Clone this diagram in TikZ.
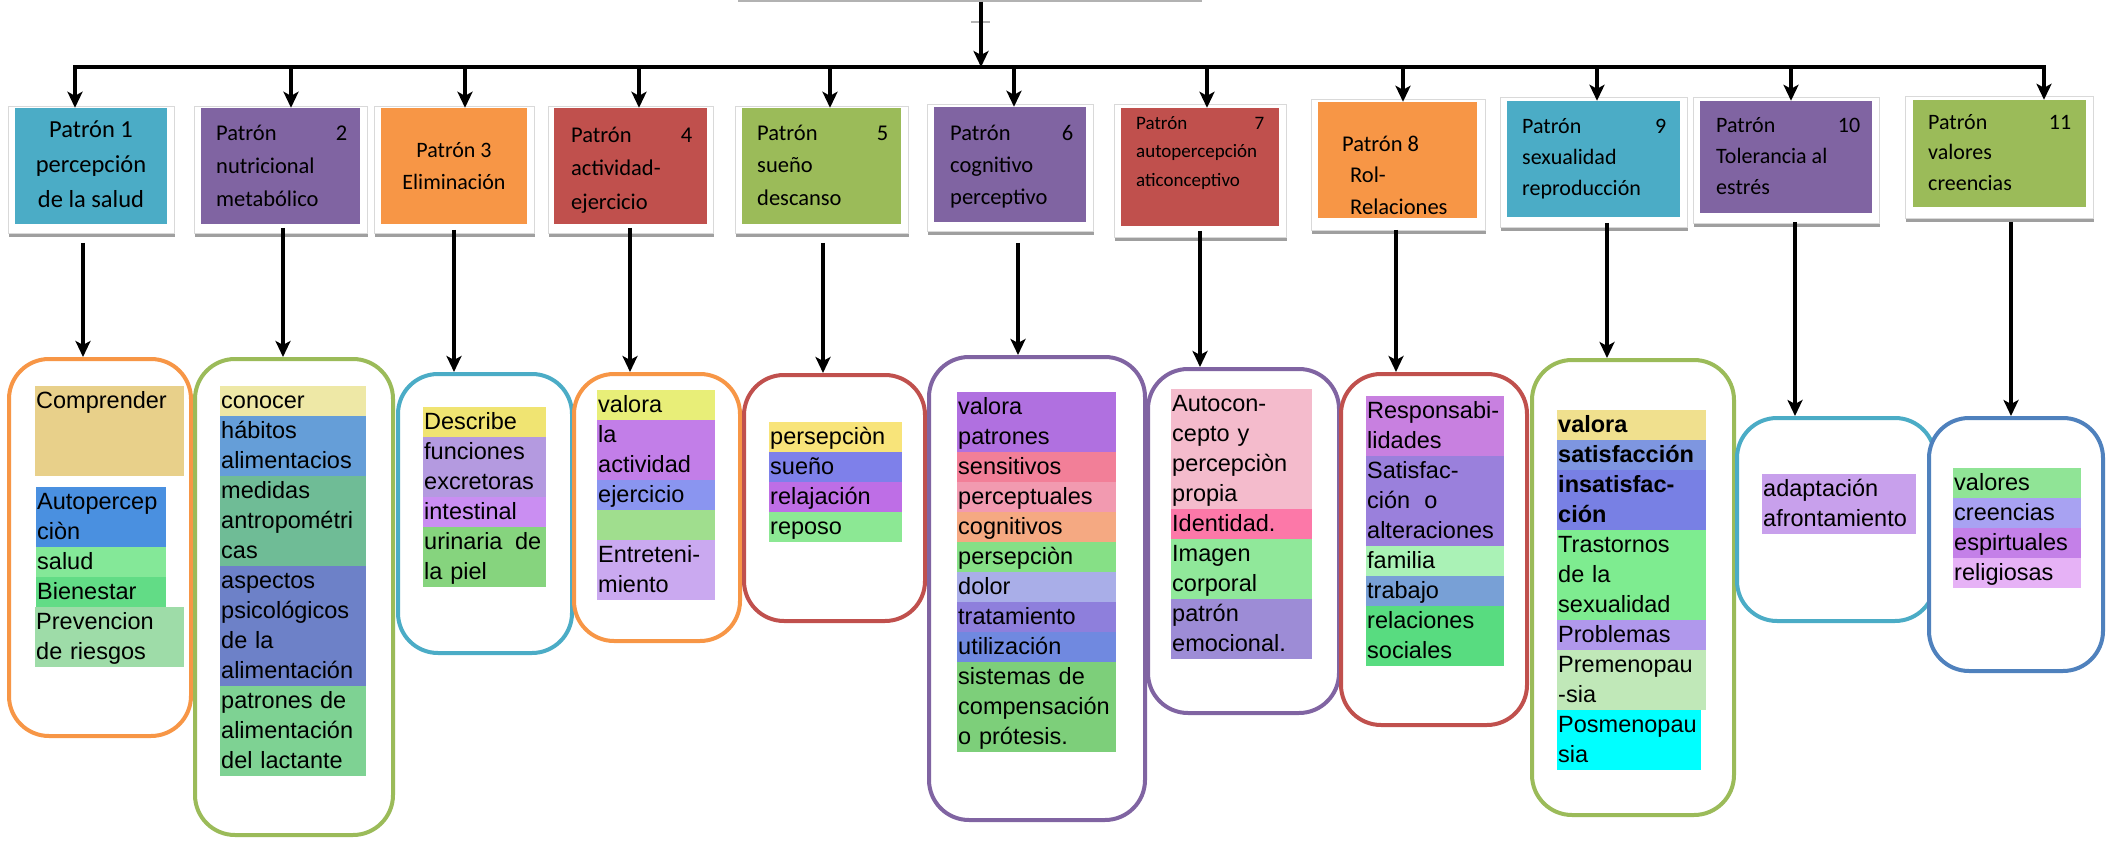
\documentclass[tikz,border=0pt]{standalone}
\usepackage{fontspec}
\newfontfamily\carl{Carlito}
\newfontfamily\arialf{Liberation Sans}
\usetikzlibrary{arrows.meta,shadows}
\definecolor{oTeal}{HTML}{4BACC6}
\definecolor{oPurple}{HTML}{8064A2}
\definecolor{oOrange}{HTML}{F79646}
\definecolor{oRed}{HTML}{C0504D}
\definecolor{oGreen}{HTML}{9BBB59}
\definecolor{oBlue}{HTML}{4F81BD}
\newcommand\ds{\rule[-8pt]{0pt}{30pt}}
\newcommand\frm[5]{\node[pframe, minimum width={#4-#2}, minimum height={#5-#3}] (#1) at ({(#2+#4)/2},{(#3+#5)/2}) {};}
\newcommand\pbx[6]{\node[pbox, fill=#6, minimum width={#4-#2}, minimum height={#5-#3}] (#1) at ({(#2+#4)/2},{(#3+#5)/2}) {};}
\newcommand\dbx[6]{\node[dbox, draw=#6, minimum width={#4-#2-4}, minimum height={#5-#3-4}] (#1) at ({(#2+#4)/2},{(#3+#5)/2}) {};}
\newcommand\sg[6]{\pgfmathsetmacro\tw{#4-2}\definecolor{segc}{HTML}{#5}\node[seg, fill=segc, text width=\tw pt] (#1) at (#2,#3) {#6};}
\begin{document}
\begin{tikzpicture}[x=1pt,y=-1pt,
  topbox/.style={draw=gray!60, line width=1.5pt, fill=white, rectangle, inner sep=0pt},
  bus/.style={line width=4.5pt, line cap=rect},
  arr/.style={line width=4pt, -{Stealth[length=16pt,width=15pt,inset=4pt]}},
  pframe/.style={rectangle, draw=gray!30, line width=0.8pt, fill=white, inner sep=0pt,
     drop shadow={shadow xshift=1pt, shadow yshift=-4pt, fill=gray!75, opacity=1}},
  pbox/.style={rectangle, inner sep=0pt},
  ptx/.style={inner sep=0pt, anchor=north west, align=left},
  dbox/.style={rectangle, rounded corners=40pt, line width=4pt, fill=white, inner sep=0pt},
  seg/.style={rectangle, inner xsep=1pt, inner ysep=0pt, anchor=north west, align=left,
     font={\arialf\fontsize{23.5}{30}\selectfont\parindent=0pt}}
]
\useasboundingbox (0,0) rectangle (2107,842);
% top
\node[topbox, minimum width=462, minimum height=60] (top) at (970,-29) {};
\draw[gray!60, line width=2pt] (971,22) -- (990,22);
\coordinate (c0) at (981,67);
\foreach \n/\x in {1/75,2/291,3/465,4/639,5/830,6/1014,7/1207,8/1403,9/1597,10/1791,11/2044}
  {\coordinate (b\n) at (\x,67);}
\draw[bus] (b1) -- (b11);
\draw[arr] (c0 |- top.south) -- (c0);
% pattern frames
\frm{f1}{8}{106}{174}{233}
\frm{f2}{194}{106}{367}{233}
\frm{f3}{374}{106}{534}{233}
\frm{f4}{548}{106}{713}{233}
\frm{f5}{735}{106}{908}{233}
\frm{f6}{927}{104}{1093}{231}
\frm{f7}{1114}{104}{1286}{237}
\frm{f8}{1311}{99}{1485}{230}
\frm{f9}{1500}{97}{1687}{227}
\frm{f10}{1693}{97}{1879}{223}
\frm{f11}{1905}{96}{2093}{218}
% pattern boxes
\pbx{p1}{15}{108}{167}{224}{oTeal}
\pbx{p2}{201}{108}{360}{224}{oPurple}
\pbx{p3}{381}{108}{527}{224}{oOrange}
\pbx{p4}{554}{108}{707}{224}{oRed}
\pbx{p5}{742}{108}{901}{224}{oGreen}
\pbx{p6}{934}{107}{1086}{222}{oPurple}
\pbx{p7}{1121}{108}{1279}{226}{oRed}
\pbx{p8}{1318}{102}{1477}{218}{oOrange}
\pbx{p9}{1507}{101}{1680}{217}{oTeal}
\pbx{p10}{1700}{101}{1872}{213}{oPurple}
\pbx{p11}{1913}{100}{2086}{207}{oGreen}
% pattern texts
\node[ptx, anchor=north, align=center, font={\carl\fontsize{24.5}{35}\selectfont}] (t1) at (91,112.5)
  {\strut Patrón 1\\\strut percepción\\\strut de la salud};
\node[ptx, font={\carl\fontsize{22.5}{33}\selectfont}] (t2) at (216,117)
  {\hbox to 131pt{\strut Patrón\hfill 2}\\\strut nutricional\\\strut metabólico};
\node[ptx, anchor=north, align=center, font={\carl\fontsize{22}{32}\selectfont}] (t3) at (454,134.6)
  {\strut Patrón 3\\\strut Eliminación};
\node[ptx, font={\carl\fontsize{22.5}{33.5}\selectfont}] (t4) at (571,118.5)
  {\hbox to 121pt{\strut Patrón\hfill 4}\\\strut actividad-\\\strut ejercicio};
\node[ptx, font={\carl\fontsize{22.5}{32.5}\selectfont}] (t5) at (757,117.25)
  {\hbox to 131pt{\strut Patrón\hfill 5}\\\strut sueño\\\strut descanso};
\node[ptx, font={\carl\fontsize{22.5}{32}\selectfont}] (t6) at (950,117.6)
  {\hbox to 123pt{\strut Patrón\hfill 6}\\\strut cognitivo\\\strut perceptivo};
\node[ptx, font={\carl\fontsize{19}{28.5}\selectfont}] (t7) at (1136,109)
  {\hbox to 128pt{\strut Patrón\hfill 7}\\\strut autopercepción\\\strut aticonceptivo};
\node[ptx, font={\carl\fontsize{22.5}{31.5}\selectfont}] (t8) at (1342,129)
  {\strut Patrón 8\\\strut\hspace*{8pt}Rol-\\\strut\hspace*{8pt}Relaciones};
\node[ptx, font={\carl\fontsize{22}{31}\selectfont}] (t9) at (1522,111.3)
  {\hbox to 144pt{\strut Patrón\hfill 9}\\\strut sexualidad\\\strut reproducción};
\node[ptx, font={\carl\fontsize{22}{31}\selectfont}] (t10) at (1716,110.3)
  {\hbox to 144pt{\strut Patrón\hfill 10}\\\strut Tolerancia al\\\strut estrés};
\node[ptx, font={\carl\fontsize{22}{30.5}\selectfont}] (t11) at (1928,107.65)
  {\hbox to 143pt{\strut Patrón\hfill 11}\\\strut valores\\\strut creencias};
% upper arrows
\foreach \n in {1,...,11} {\draw[arr] (b\n) -- (b\n |- p\n.north);}
% detail boxes
\dbx{d1}{7}{357}{193}{738}{oOrange}
\dbx{d2}{193}{357}{395}{837}{oGreen}
\dbx{d3}{396}{372}{574}{655}{oTeal}
\dbx{d4}{572}{372}{742}{643}{oOrange}
\dbx{d5}{742}{373}{927}{623}{oRed}
\dbx{d6}{927}{355}{1147}{822}{oPurple}
\dbx{d7}{1146}{367}{1341}{715}{oPurple}
\dbx{d8}{1339}{372}{1529}{727}{oRed}
\dbx{d9}{1530}{358}{1736}{817}{oGreen}
\dbx{d10}{1735}{416}{1937}{623}{oTeal}
\dbx{d11}{1927}{416}{2105}{673}{oBlue}
% segments D1
\sg{s1a}{35}{386}{149}{E8D08A}{\ds Comprender\\\ds\\\ds}
\sg{s1b}{36}{487}{130}{4A90E0}{\ds Autopercep\\\ds ciòn}
\sg{s1c}{36}{547}{130}{84E898}{\ds salud}
\sg{s1d}{36}{577}{130}{62DC86}{\ds Bienestar}
\sg{s1e}{35}{607}{149}{9EDCA8}{\ds Prevencion\\\ds de riesgos}
% D2
\sg{s2a}{220}{386}{146}{EEE8A6}{\ds conocer}
\sg{s2b}{220}{416}{146}{659ED8}{\ds hábitos\\\ds alimentacios}
\sg{s2c}{220}{476}{146}{6FBC96}{\ds medidas\\\ds antropométri\\\ds cas}
\sg{s2d}{220}{566}{146}{6D81C8}{\ds aspectos\\\ds psicológicos\\\ds de la\\\ds alimentación}
\sg{s2e}{220}{686}{146}{7ED293}{\hbox to 125pt{\ds patrones\hfill de}\\\ds alimentación\\\ds del lactante}
% D3
\sg{s3a}{423}{407}{123}{F0E472}{\ds Describe}
\sg{s3b}{423}{437}{123}{B49AE0}{\ds funciones\\\ds excretoras}
\sg{s3c}{423}{497}{123}{CA8EF2}{\ds intestinal}
\sg{s3d}{423}{527}{123}{86D47E}{\hbox to 117pt{\ds urinaria\hfill de}\\\ds la piel}
% D4
\sg{s4a}{597}{390}{118}{E8EE78}{\ds valora}
\sg{s4b}{597}{420}{118}{C27EE8}{\ds la\\\ds actividad}
\sg{s4c}{597}{480}{118}{8A95F0}{\ds ejercicio}
\sg{s4d}{597}{510}{118}{A0DE8E}{\ds}
\sg{s4e}{597}{540}{118}{CAA9F0}{\ds Entreteni-\\\ds miento}
% D5
\sg{s5a}{769}{422}{133}{F8E47A}{\ds persepciòn}
\sg{s5b}{769}{452}{133}{7E80EA}{\ds sueño}
\sg{s5c}{769}{482}{133}{BE6EE6}{\ds relajación}
\sg{s5d}{769}{512}{133}{8CE894}{\ds reposo}
% D6
\sg{s6a}{957}{392}{159}{B070E0}{\ds valora\\\ds patrones}
\sg{s6b}{957}{452}{159}{F27F98}{\ds sensitivos}
\sg{s6c}{957}{482}{159}{F29AB0}{\ds perceptuales}
\sg{s6d}{957}{512}{159}{F5A982}{\ds cognitivos}
\sg{s6e}{957}{542}{159}{86E086}{\ds persepciòn}
\sg{s6f}{957}{572}{159}{A9AEE8}{\ds dolor}
\sg{s6g}{957}{602}{159}{8E7FDC}{\ds tratamiento}
\sg{s6h}{957}{632}{159}{7089E0}{\ds utilización}
\sg{s6i}{957}{662}{159}{7DCF7A}{\ds sistemas de\\\ds compensación\\\ds o prótesis.}
% D7
\sg{s7a}{1171}{389}{141}{F4BBCC}{\ds Autocon-\\\ds cepto y\\\ds percepciòn\\\ds propia}
\sg{s7b}{1171}{509}{141}{FC78A8}{\ds Identidad.}
\sg{s7c}{1171}{539}{141}{90E89A}{\ds Imagen\\\ds corporal}
\sg{s7d}{1171}{599}{141}{9D8CD6}{\ds patrón\\\ds emocional.}
% D8
\sg{s8a}{1366}{396}{138}{C880E0}{\ds Responsabi-\\\ds lidades}
\sg{s8b}{1366}{456}{138}{9A80DC}{\ds Satisfac-\\\ds ción\hspace{14pt}o\\\ds alteraciones}
\sg{s8c}{1366}{546}{138}{AAF2B6}{\ds familia}
\sg{s8d}{1366}{576}{138}{78A0D6}{\ds trabajo}
\sg{s8e}{1366}{606}{138}{58DC80}{\ds relaciones\\\ds sociales}
% D9
\sg{s9a}{1557}{410}{149}{F0E08E}{\bfseries\ds valora}
\sg{s9b}{1557}{440}{149}{7E96E0}{\bfseries\ds satisfacción}
\sg{s9c}{1557}{470}{149}{7880E4}{\bfseries\ds insatisfac-\\\ds ción}
\sg{s9d}{1557}{530}{149}{7EEC90}{\ds Trastornos\\\ds de la\\\ds sexualidad}
\sg{s9e}{1557}{620}{149}{B098EC}{\ds Problemas}
\sg{s9f}{1557}{650}{149}{C0E8B8}{\ds Premenopau\\\ds -sia}
\sg{s9g}{1557}{710}{144}{00FFFF}{\ds Posmenopau\\\ds sia}
% D10
\sg{s10a}{1762}{474}{154}{C8A0EC}{\ds adaptación\\\ds afrontamiento}
% D11
\sg{s11a}{1953}{468}{128}{90E496}{\ds valores}
\sg{s11b}{1953}{498}{128}{A8A2F2}{\ds creencias}
\sg{s11c}{1953}{528}{128}{C480E8}{\ds espirtuales}
\sg{s11d}{1953}{558}{128}{E6B2F6}{\ds religiosas}
% lower arrows
\foreach \n/\x/\y in {1/83/243,2/283/228,3/454/230,4/630/228,5/823/243,6/1018/243,7/1200/231,8/1396/230,9/1607/223,10/1795/222,11/2011/222}
  {\coordinate (u\n) at (\x,\y); \draw[arr] (u\n) -- (u\n |- d\n.north);}
\end{tikzpicture}
\end{document}
